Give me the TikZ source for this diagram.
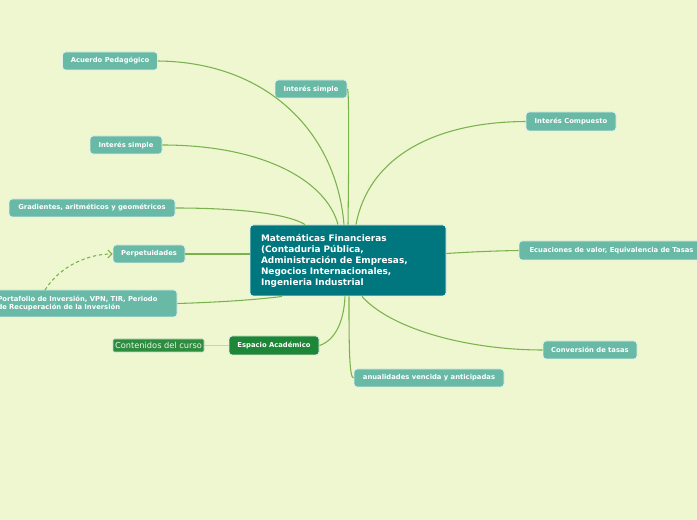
\documentclass[tikz,border=0pt]{standalone}
\usepackage{fontspec}
\setmainfont{DejaVu Sans}
\usetikzlibrary{arrows.meta,calc}
\definecolor{bgc}{RGB}{238,247,208}
\definecolor{subc}{RGB}{104,185,165}
\definecolor{mainc}{RGB}{0,119,127}
\definecolor{linkc}{RGB}{122,178,78}
\definecolor{dgreen}{RGB}{30,135,55}
\definecolor{mgreen}{RGB}{45,140,62}
\definecolor{lightlink}{RGB}{190,222,150}
\begin{document}
\begin{tikzpicture}[x=0.75pt,y=-0.75pt,
  box/.style={rectangle, rounded corners=2.2pt, draw=white!80!subc, line width=0.7pt,
    text=white, inner sep=0pt, font=\bfseries\fontsize{5.1}{6}\selectfont},
  sub/.style={box, fill=subc},
  link/.style={draw=linkc, line width=0.8pt},
  wsize/.style 2 args={minimum width=#1*0.75pt, minimum height=#2*0.75pt}]
\useasboundingbox (0,0) rectangle (697,520);
\fill[bgc] (0,0) rectangle (697,520);
\clip (0,0) rectangle (697,520);

% nodes
\node[box, fill=mainc, wsize={196}{71}, align=left, text width=174*0.75pt,
  font=\bfseries\fontsize{6.7}{8.25}\selectfont] (c) at (348,260.5)
  {Matemáticas Financieras\\(Contaduria Pública,\\Administración de Empresas,\\Negocios Internacionales,\\Ingenieria Industrial};
\node[sub, wsize={95}{18}] (acu) at (110,61) {Acuerdo Pedagógico};
\node[sub, wsize={72}{18}] (is1) at (311,89) {Interés simple};
\node[sub, wsize={72}{18}] (is2) at (126,145) {Interés simple};
\node[sub, wsize={166}{18}] (gra) at (92,208) {Gradientes, aritméticos y geométricos};
\node[sub, wsize={72}{18}] (per) at (149,254) {Perpetuidades};
\node[sub, wsize={195}{27}, align=left, text width=164*0.75pt] (por) at (79.5,303.5)
  {Portafolio de Inversión, VPN, TIR, Periodo\\de Recuperación de la Inversión};
\node[box, fill=dgreen, draw=white!85!dgreen, wsize={90}{19}] (esp) at (274,345.5) {Espacio Académico};
\node[box, fill=mgreen, draw=white!70!mgreen, line width=0.4pt, rounded corners=1pt, wsize={91}{13},
  font=\fontsize{6.2}{7}\selectfont, text=white!92!mgreen] (con) at (158.5,345.5) {Contenidos del curso};
\node[sub, wsize={90}{19}] (ico) at (571,121.5) {Interés Compuesto};
\node[sub, wsize={185}{19}] (ecu) at (611.5,250.5) {Ecuaciones de valor, Equivalencia de Tasas};
\node[sub, wsize={94}{18}] (cnv) at (590,350) {Conversión de tasas};
\node[sub, wsize={150}{18}] (anu) at (429,378) {anualidades vencida y anticipadas};

% connectors
\draw[link] (acu.east) .. controls (265,62) and (336,130) .. ($(c.north)+(-4,0)$);
\draw[link] (is1.east) .. controls (349,89) and (349,150) .. (c.north);
\draw[link] (is2.east) .. controls (262,145) and (326,180) .. ($(c.north)+(-10,0)$);
\draw[link] (gra.east) .. controls (240,208) and (288,214) .. ($(c.north)+(-43,0)$);
\draw[link] (per.east) -- (per.east -| c.west);
\draw[link] (por.east) .. controls (228,302) and (262,299) .. ($(c.south)+(-66,0)$);
\draw[link] (esp.east) .. controls (336,340) and (344,320) .. ($(c.south)+(-3,0)$);
\draw[link] (anu.west) .. controls (349,378) and (349,340) .. ($(c.south)+(1,0)$);
\draw[link] (cnv.west) .. controls (470,350) and (392,330) .. ($(c.south)+(14,0)$);
\draw[link] (ico.west) .. controls (430,122) and (368,160) .. ($(c.north)+(8,0)$);
\draw[link] (ecu.west) .. controls (490,251) and (470,252) .. ($(c.east)+(0,-7)$);
\draw[draw=lightlink, line width=1pt] (con.east) -- (esp.west);

% dashed relation
\coordinate (pt) at (45,290);
\draw[linkc, line width=0.8pt, dash pattern=on 2.5pt off 2pt, -{Straight Barb[length=3pt]}]
  (pt) .. controls (60,266) and (88,254) .. (per.west);
\end{tikzpicture}
\end{document}
